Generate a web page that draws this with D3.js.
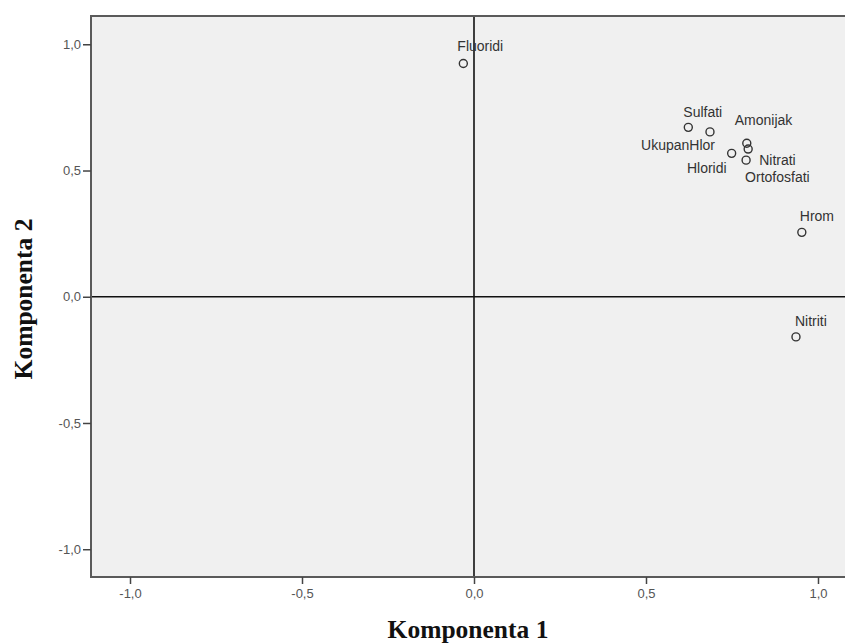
<!DOCTYPE html>
<html>
<head>
<meta charset="utf-8">
<script src="https://cdn.jsdelivr.net/npm/d3@7"></script>
<style>
  html, body { margin: 0; padding: 0; background: #ffffff; }
  svg { display: block; }
</style>
</head>
<body>
<svg id="chart" width="845" height="644"></svg>
<script>
// ---- data ----
const variables = ["Fluoridi", "Sulfati", "UkupanHlor", "Amonijak", "Nitrati", "Hloridi", "Ortofosfati", "Hrom", "Nitriti"];
const komponenta1 = [-0.031, 0.623, 0.686, 0.793, 0.797, 0.749, 0.791, 0.953, 0.936];
const komponenta2 = [0.924, 0.671, 0.653, 0.608, 0.585, 0.568, 0.541, 0.255, -0.159];
const tickValues = [-1.0, -0.5, 0.0, 0.5, 1.0];
const tickLabels = ["-1,0", "-0,5", "0,0", "0,5", "1,0"];
const xTitle = "Komponenta 1";
const yTitle = "Komponenta 2";

// ---- layout ----
const svg = d3.select("#chart");
const x = d3.scaleLinear().domain([-1.1134, 1.1134]).range([91, 857]);
const y = d3.scaleLinear().domain([-1.11, 1.112]).range([577, 16]);

// label placement (offsets from the marker, in px) and anchor
const labelPlace = {
  "Fluoridi":    { dx: -6,  dy: -12, anchor: "start" },
  "Sulfati":     { dx: -5,  dy: -10, anchor: "start" },
  "UkupanHlor":  { dx: 5,   dy: 18,  anchor: "end" },
  "Amonijak":    { dx: -12, dy: -18, anchor: "start" },
  "Nitrati":     { dx: 11,  dy: 16,  anchor: "start" },
  "Hloridi":     { dx: -5,  dy: 20,  anchor: "end" },
  "Ortofosfati": { dx: -1,  dy: 22,  anchor: "start" },
  "Hrom":        { dx: -2,  dy: -11, anchor: "start" },
  "Nitriti":     { dx: -1,  dy: -11, anchor: "start" }
};

// plot background
const [x0, x1] = x.range();
const [y0, y1] = [y.range()[1], y.range()[0]];
svg.append("rect")
  .attr("x", x0).attr("y", y0)
  .attr("width", x1 - x0).attr("height", y1 - y0)
  .attr("fill", "#f0f0f0");

// reference lines at 0
svg.append("line")
  .attr("x1", x(0)).attr("x2", x(0))
  .attr("y1", y0).attr("y2", y1)
  .attr("stroke", "#111").attr("stroke-width", 1.6);
svg.append("line")
  .attr("x1", x0).attr("x2", x1)
  .attr("y1", y(0)).attr("y2", y(0))
  .attr("stroke", "#111").attr("stroke-width", 1.6);

// frame
svg.append("rect")
  .attr("x", x0).attr("y", y0)
  .attr("width", x1 - x0).attr("height", y1 - y0)
  .attr("fill", "none")
  .attr("stroke", "#5a5a5a").attr("stroke-width", 2);

// axes
const fmt = d => tickLabels[tickValues.indexOf(d)];
const xAxis = d3.axisBottom(x).tickValues(tickValues).tickFormat(fmt).tickSize(7).tickPadding(5);
const yAxis = d3.axisLeft(y).tickValues(tickValues).tickFormat(fmt).tickSize(8).tickPadding(2);

const gx = svg.append("g").attr("transform", `translate(0,${y1})`).call(xAxis);
const gy = svg.append("g").attr("transform", `translate(${x0},0)`).call(yAxis);
[gx, gy].forEach(g => {
  g.select(".domain").remove();
  g.selectAll(".tick line").attr("stroke", "#444").attr("stroke-width", 1.5);
  g.selectAll(".tick text")
    .attr("fill", "#555")
    .style("font-family", "'Liberation Sans', Arial, sans-serif")
    .style("font-size", "13px");
});

// points
const pts = variables.map((v, i) => ({ name: v, k1: komponenta1[i], k2: komponenta2[i] }));
svg.append("g").selectAll("circle")
  .data(pts).join("circle")
  .attr("cx", d => x(d.k1)).attr("cy", d => y(d.k2))
  .attr("r", 4)
  .attr("fill", "none")
  .attr("stroke", "#333").attr("stroke-width", 1.4);

svg.append("g").selectAll("text")
  .data(pts).join("text")
  .attr("x", d => x(d.k1) + labelPlace[d.name].dx)
  .attr("y", d => y(d.k2) + labelPlace[d.name].dy)
  .attr("text-anchor", d => labelPlace[d.name].anchor)
  .attr("fill", "#333")
  .style("font-family", "'Liberation Sans', Arial, sans-serif")
  .style("font-size", "14px")
  .text(d => d.name);

// axis titles
svg.append("text")
  .attr("x", x(0) - 6).attr("y", 638)
  .attr("text-anchor", "middle")
  .attr("fill", "#111")
  .style("font-family", "'Liberation Serif', 'Times New Roman', serif")
  .style("font-weight", "bold")
  .style("font-size", "25.5px")
  .text(xTitle);

svg.append("text")
  .attr("transform", "translate(32,299) rotate(-90)")
  .attr("text-anchor", "middle")
  .attr("fill", "#111")
  .style("font-family", "'Liberation Serif', 'Times New Roman', serif")
  .style("font-weight", "bold")
  .style("font-size", "25.5px")
  .text(yTitle);
</script>
</body>
</html>
